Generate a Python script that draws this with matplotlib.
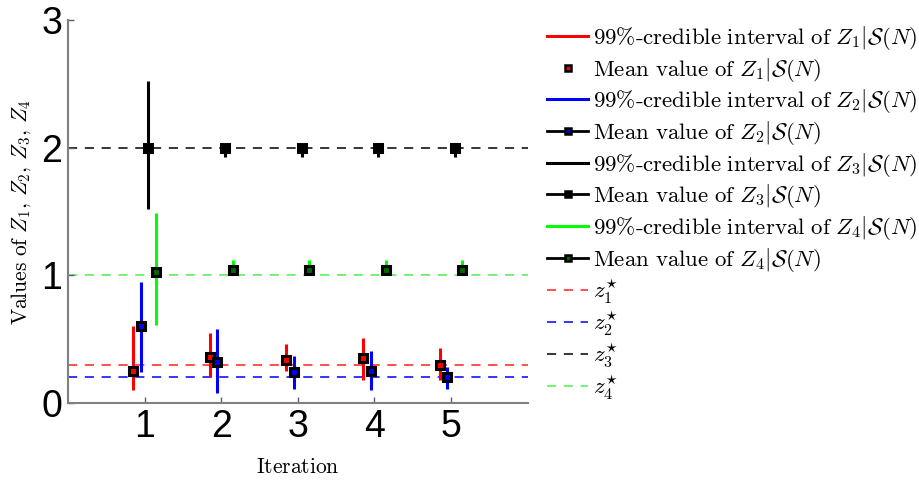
import matplotlib
matplotlib.use("Agg")
import matplotlib.pyplot as plt
from matplotlib.lines import Line2D

plt.rcParams['mathtext.fontset'] = 'cm'

iterations = [1, 2, 3, 4, 5]
offsets = [-0.15, -0.05, 0.05, 0.15]

z1_mean = [0.25, 0.36, 0.34, 0.35, 0.30]
z1_low = [0.10, 0.20, 0.25, 0.18, 0.18]
z1_high = [0.60, 0.55, 0.46, 0.51, 0.43]

z2_mean = [0.60, 0.32, 0.24, 0.25, 0.20]
z2_low = [0.24, 0.08, 0.11, 0.10, 0.11]
z2_high = [0.95, 0.58, 0.37, 0.41, 0.28]

z3_mean = [2.0, 2.0, 2.0, 2.0, 2.0]
z3_low = [1.52, 1.93, 1.93, 1.93, 1.93]
z3_high = [2.52, 2.03, 2.03, 2.03, 2.03]

z4_mean = [1.03, 1.04, 1.04, 1.04, 1.04]
z4_low = [0.61, 1.00, 1.00, 1.00, 1.00]
z4_high = [1.49, 1.12, 1.12, 1.12, 1.12]

z_true = [0.3, 0.2, 2.0, 1.0]

series = [(z1_mean, z1_low, z1_high), (z2_mean, z2_low, z2_high),
          (z3_mean, z3_low, z3_high), (z4_mean, z4_low, z4_high)]
int_colors = ['#ff0000', '#0000ff', '#000000', '#00ff00']
face_colors = ['#ff0000', '#0000ff', '#000000', '#006400']
dash_colors = ['#ff2020', '#0000ff', '#000000', '#50ee50']

fig = plt.figure(figsize=(9.2, 4.84), dpi=100)
ax = fig.add_axes([68/920, 1 - 403/484, (527.6-68)/920, (403-20)/484])

handles = []
labels = []
for k, (m, lo, hi) in enumerate(series):
    n = str(k + 1)
    xs = [i + offsets[k] for i in iterations]
    ax.vlines(xs, lo, hi, colors=int_colors[k], lw=2.2, zorder=3)
    ax.plot(xs, m, linestyle='none', marker='s', markersize=5.5,
            markerfacecolor=face_colors[k], markeredgecolor='black',
            markeredgewidth=2.2, zorder=4)
    handles.append(Line2D([], [], color=int_colors[k], lw=2.2))
    labels.append(r'$\mathrm{99\%\text{-}credible\ interval\ of\ }Z_{' + n + r'}|\mathcal{S}(N)$')
    if k == 0:
        handles.append(Line2D([], [], linestyle='none', marker='s', markersize=4.5,
                              markerfacecolor=face_colors[k], markeredgecolor='black',
                              markeredgewidth=1.8))
    else:
        handles.append(Line2D([], [], color='black', lw=2, marker='s', markersize=4.5,
                              markerfacecolor=face_colors[k], markeredgecolor='black',
                              markeredgewidth=1.8))
    labels.append(r'$\mathrm{Mean\ value\ of\ }Z_{' + n + r'}|\mathcal{S}(N)$')

for k, zt in enumerate(z_true):
    ax.axhline(zt, color=dash_colors[k], lw=1.1, dashes=(6, 5), zorder=1)
    handles.append(Line2D([], [], color=dash_colors[k], lw=1.1, dashes=(6, 5)))
    labels.append(r'$z_{' + str(k + 1) + r'}^{\star}$')

ax.set_xlim(0, 6)
ax.set_ylim(0, 3)
ax.set_xticks(iterations)
ax.set_yticks([0, 1, 2, 3])
for s in ['top', 'right']:
    ax.spines[s].set_visible(False)
for s in ['left', 'bottom']:
    ax.spines[s].set_color('#808080')
    ax.spines[s].set_linewidth(1.5)
ax.tick_params(direction='in', length=4, color='#606060', width=1,
               labelsize=27, pad=4)
for lab in ax.get_xticklabels() + ax.get_yticklabels():
    lab.set_family('Liberation Sans')

ax.set_xlabel(r'$\mathrm{Iteration}$', fontsize=15.5, labelpad=9)
ax.set_ylabel(r'$\mathrm{Values\ of\ }Z_1,\,Z_2,\,Z_3,\,Z_4$', fontsize=15.5, labelpad=6)

fig.legend(handles, labels, loc='upper left', bbox_to_anchor=(547/920, 1 - 24/484),
           frameon=False, fontsize=16.5, handlelength=1.8, handletextpad=0.22,
           labelspacing=0.16, borderpad=0, borderaxespad=0)

fig.savefig('out.png', dpi=100)
